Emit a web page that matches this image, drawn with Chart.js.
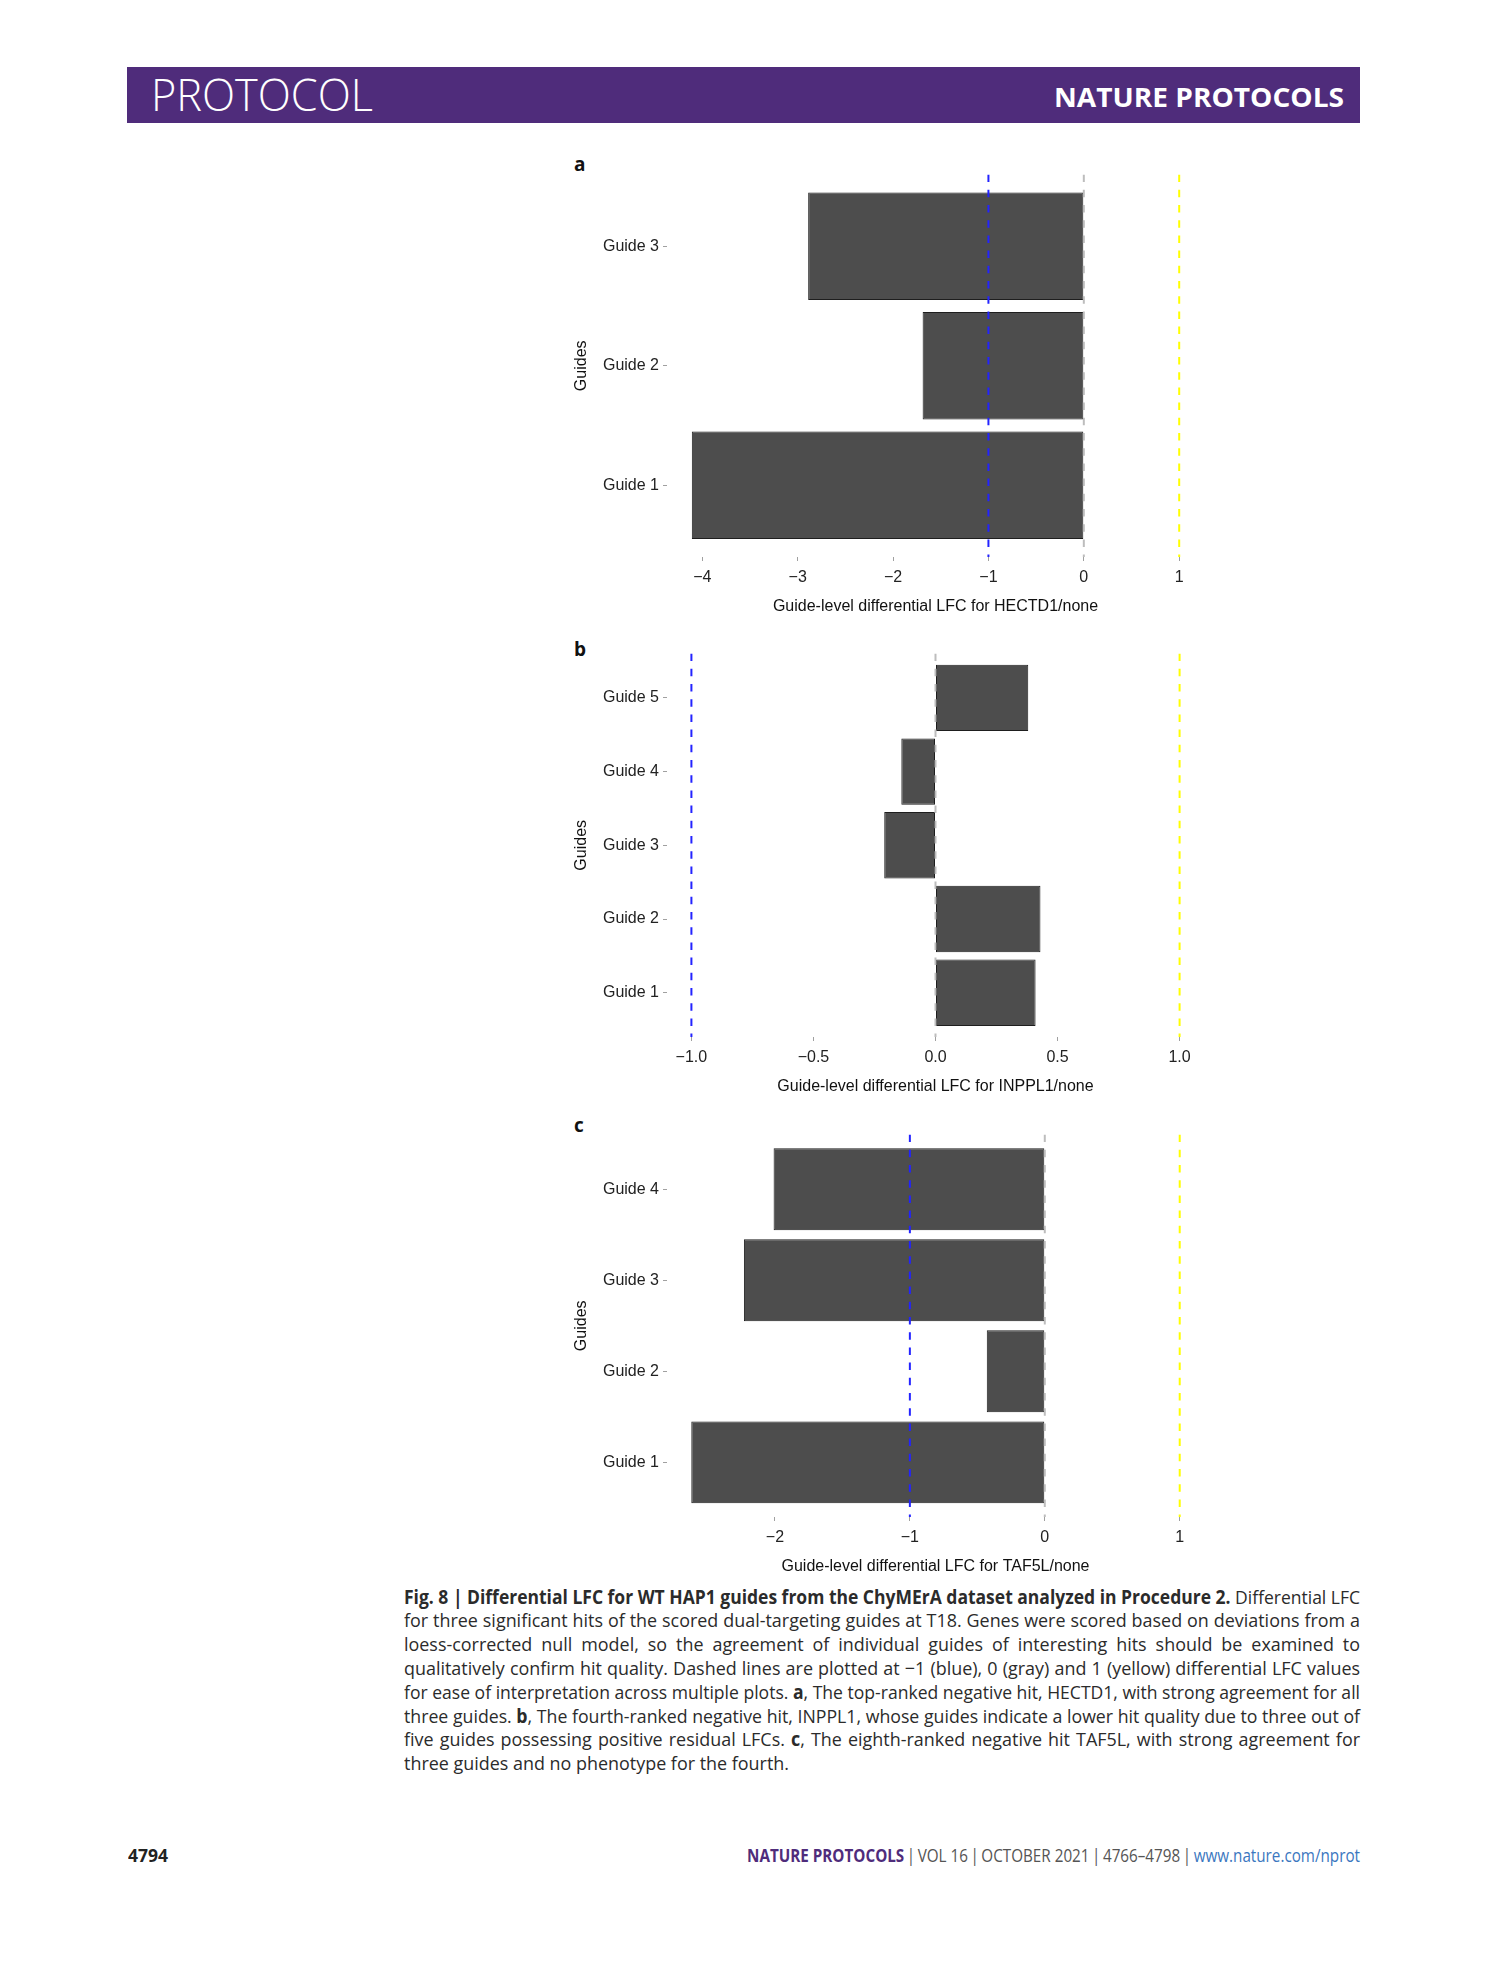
<!DOCTYPE html>
<html>
<head>
<meta charset="utf-8">
<script src="https://cdn.jsdelivr.net/npm/chart.js@4.4.1/dist/chart.umd.min.js"></script>
<style>
  html, body { margin: 0; padding: 0; background: #fff; }
  #page { position: relative; width: 1489px; height: 1978px; overflow: hidden; font-family: 'Open Sans', sans-serif; }
  .abs { position: absolute; white-space: nowrap; line-height: 1; transform-origin: left top; }
  canvas.panel { position: absolute; }
  .cap { position: absolute; left: 404px; white-space: nowrap; line-height: 1; font-size: 19px; color: #2b2b2b; transform-origin: left top; }
  .cap b { font-weight: 700; }
</style>
</head>
<body>
<div id="page">
  <div style="position:absolute;left:127px;top:67px;width:1233px;height:56px;background:#4f2c7b"></div>
  <div class="abs fit" data-w="222" style="left:151px;top:72px;font-size:44px;font-weight:300;color:#fff">PROTOCOL</div>
  <div class="abs fit" data-w="290" style="left:1054px;top:83.6px;font-size:26px;font-weight:700;color:#fff">NATURE PROTOCOLS</div>

  <div class="abs" style="left:574px;top:155px;font-size:19px;font-weight:700;color:#111">a</div>
  <div class="abs" style="left:574px;top:640px;font-size:19px;font-weight:700;color:#111">b</div>
  <div class="abs" style="left:574px;top:1116px;font-size:19px;font-weight:700;color:#111">c</div>

  <canvas class="panel" id="chartA" width="654" height="451" style="left:566px;top:167px;width:654px;height:451px"></canvas>
  <canvas class="panel" id="chartB" width="654" height="453" style="left:566px;top:646px;width:654px;height:453px"></canvas>
  <canvas class="panel" id="chartC" width="654" height="452" style="left:566px;top:1127px;width:654px;height:452px"></canvas>

  <div id="caption"></div>

  <div class="abs fit" data-w="40" style="left:128px;top:1846px;font-size:18px;font-weight:700;color:#222">4794</div>
  <div class="abs fit" data-w="613" style="left:747px;top:1846px;font-size:18px;color:#555"><b style="color:#4f2c7b">NATURE PROTOCOLS</b>&#8201;|&#8201;VOL 16&#8201;|&#8201;OCTOBER 2021&#8201;|&#8201;4766–4798&#8201;|&#8201;<span style="color:#3b77c0">www.nature.com/nprot</span></div>
</div>

<script>
  // panel a: HECTD1
  var guidesA = ['Guide 1', 'Guide 2', 'Guide 3'];
  var lfcA = [-4.11, -1.69, -2.89];
  var ticksA = [-4, -3, -2, -1, 0, 1];
  var tickLabelsA = ['\u22124', '\u22123', '\u22122', '\u22121', '0', '1'];

  // panel b: INPPL1
  var guidesB = ['Guide 1', 'Guide 2', 'Guide 3', 'Guide 4', 'Guide 5'];
  var lfcB = [0.41, 0.43, -0.21, -0.14, 0.38];
  var ticksB = [-1, -0.5, 0, 0.5, 1];
  var tickLabelsB = ['\u22121.0', '\u22120.5', '0.0', '0.5', '1.0'];

  // panel c: TAF5L
  var guidesC = ['Guide 1', 'Guide 2', 'Guide 3', 'Guide 4'];
  var lfcC = [-2.62, -0.43, -2.23, -2.01];
  var ticksC = [-2, -1, 0, 1];
  var tickLabelsC = ['\u22122', '\u22121', '0', '1'];

  // dashed reference lines at -1 (blue), 0 (gray), 1 (yellow)
  var refValues = [-1, 0, 1];
  var refColors = ['#2323ff', '#bdbdbd', '#ffff00'];

  var captionLines = [
    '<b>Fig. 8 | Differential LFC for WT HAP1 guides from the ChyMErA dataset analyzed in Procedure 2.</b> Differential LFC',
    'for three significant hits of the scored dual-targeting guides at T18. Genes were scored based on deviations from a',
    'loess-corrected null model, so the agreement of individual guides of interesting hits should be examined to',
    'qualitatively confirm hit quality. Dashed lines are plotted at \u22121 (blue), 0 (gray) and 1 (yellow) differential LFC values',
    'for ease of interpretation across multiple plots. <b>a</b>, The top-ranked negative hit, HECTD1, with strong agreement for all',
    'three guides. <b>b</b>, The fourth-ranked negative hit, INPPL1, whose guides indicate a lower hit quality due to three out of',
    'five guides possessing positive residual LFCs. <b>c</b>, The eighth-ranked negative hit TAF5L, with strong agreement for',
    'three guides and no phenotype for the fourth.'
  ];

  var FONT = 'Liberation Sans';

  function panelConfig(guides, vals, xMin, xMax, ticks, tickLabels, title) {
    var yMin = 0.4, yMax = guides.length + 0.6;
    var datasets = refValues.map(function (v, i) {
      return {
        type: 'line', indexAxis: 'y',
        data: [{ x: v, y: yMax }, { x: v, y: yMin }],
        borderColor: refColors[i], borderWidth: 2, borderDash: [7.5, 7.7],
        pointRadius: 0, fill: false, order: 0
      };
    });
    datasets.push({
      type: 'bar', indexAxis: 'y',
      data: vals.map(function (v, i) { return { x: v, y: i + 1 }; }),
      backgroundColor: '#4d4d4d', borderColor: '#1e1e1e', borderWidth: 1, borderSkipped: false,
      barPercentage: 0.9, categoryPercentage: 1, order: 1
    });

    var grid = { drawOnChartArea: false, drawTicks: true, tickLength: 4, tickColor: '#a0a0a0', lineWidth: 1, offset: false };

    return {
      type: 'bar',
      data: { datasets: datasets },
      options: {
        indexAxis: 'y',
        responsive: false,
        maintainAspectRatio: false,
        animation: false,
        devicePixelRatio: 1,
        layout: { padding: { left: 0, right: 16, top: 8, bottom: 0 } },
        plugins: { legend: { display: false }, tooltip: { enabled: false } },
        scales: {
          x: {
            type: 'linear', min: xMin, max: xMax, offset: false,
            afterBuildTicks: function (s) { s.ticks = ticks.map(function (v) { return { value: v }; }); },
            afterFit: function (s) { s.height = 62; },
            grid: grid, border: { display: false },
            ticks: {
              color: '#222', font: { family: FONT, size: 16 }, padding: 7, maxRotation: 0, autoSkip: false,
              callback: function (v, i) { return tickLabels[i]; }
            },
            title: { display: true, text: title, color: '#111', font: { family: FONT, size: 16 }, padding: { top: 0, bottom: 3 } }
          },
          y: {
            type: 'linear', min: yMin, max: yMax, offset: false,
            afterBuildTicks: function (s) { s.ticks = guides.map(function (g, i) { return { value: i + 1 }; }); },
            afterFit: function (s) { s.width = 101; },
            grid: grid, border: { display: false },
            ticks: {
              color: '#222', font: { family: FONT, size: 16 }, padding: 4, autoSkip: false,
              callback: function (v, i) { return guides[i]; }
            },
            title: { display: true, text: 'Guides', color: '#111', font: { family: FONT, size: 16 }, padding: { top: 6, bottom: 0 } }
          }
        }
      }
    };
  }

  // build once, measure the plot area, then rebuild so the plot area lands on the target box
  function placePanel(id, target, cfgFn) {
    var cv = document.getElementById(id);
    var chart = new Chart(cv, cfgFn());
    var a = chart.chartArea;
    var w = Math.round(cv.width + (target.right - target.left) - (a.right - a.left));
    var h = Math.round(cv.height + (target.bottom - target.top) - (a.bottom - a.top));
    chart.destroy();
    cv.width = w; cv.height = h;
    cv.style.width = w + 'px'; cv.style.height = h + 'px';
    chart = new Chart(cv, cfgFn());
    a = chart.chartArea;
    cv.style.left = (target.left - a.left) + 'px';
    cv.style.top = (target.top - a.top) + 'px';
    return chart;
  }

  function fitText() {
    document.querySelectorAll('.fit').forEach(function (el) {
      var w = el.getBoundingClientRect().width;
      el.style.transform = 'scaleX(' + (parseFloat(el.dataset.w) / w) + ')';
    });
  }

  function buildCaption() {
    var box = document.getElementById('caption');
    var capW = 956, base0 = 1604.5, step = 23.8;
    var els = captionLines.map(function (html, i) {
      var d = document.createElement('div');
      d.className = 'cap';
      d.innerHTML = html;
      d.style.top = (base0 + i * step - 16.9) + 'px';
      box.appendChild(d);
      return d;
    });
    var lastEl = els[els.length - 1];
    var k = 385 / lastEl.getBoundingClientRect().width;
    lastEl.style.transform = 'scaleX(' + k + ')';
    els.slice(0, -1).forEach(function (d) {
      var w = d.getBoundingClientRect().width;
      var spaces = (d.textContent.match(/ /g) || []).length;
      var need = capW / k;
      if (w <= need) {
        d.style.wordSpacing = ((need - w) / spaces) + 'px';
        d.style.transform = 'scaleX(' + k + ')';
      } else {
        d.style.transform = 'scaleX(' + (capW / w) + ')';
      }
    });
  }

  placePanel('chartA', { left: 667, right: 1204, top: 175, bottom: 557 }, function () {
    return panelConfig(guidesA, lfcA, -4.37, 1.26, ticksA, tickLabelsA, 'Guide-level differential LFC for HECTD1/none');
  });
  placePanel('chartB', { left: 667, right: 1204, top: 654, bottom: 1037 }, function () {
    return panelConfig(guidesB, lfcB, -1.1, 1.1, ticksB, tickLabelsB, 'Guide-level differential LFC for INPPL1/none');
  });
  placePanel('chartC', { left: 667, right: 1204, top: 1135, bottom: 1517 }, function () {
    return panelConfig(guidesC, lfcC, -2.80, 1.18, ticksC, tickLabelsC, 'Guide-level differential LFC for TAF5L/none');
  });
  fitText();
  buildCaption();
</script>
</body>
</html>
